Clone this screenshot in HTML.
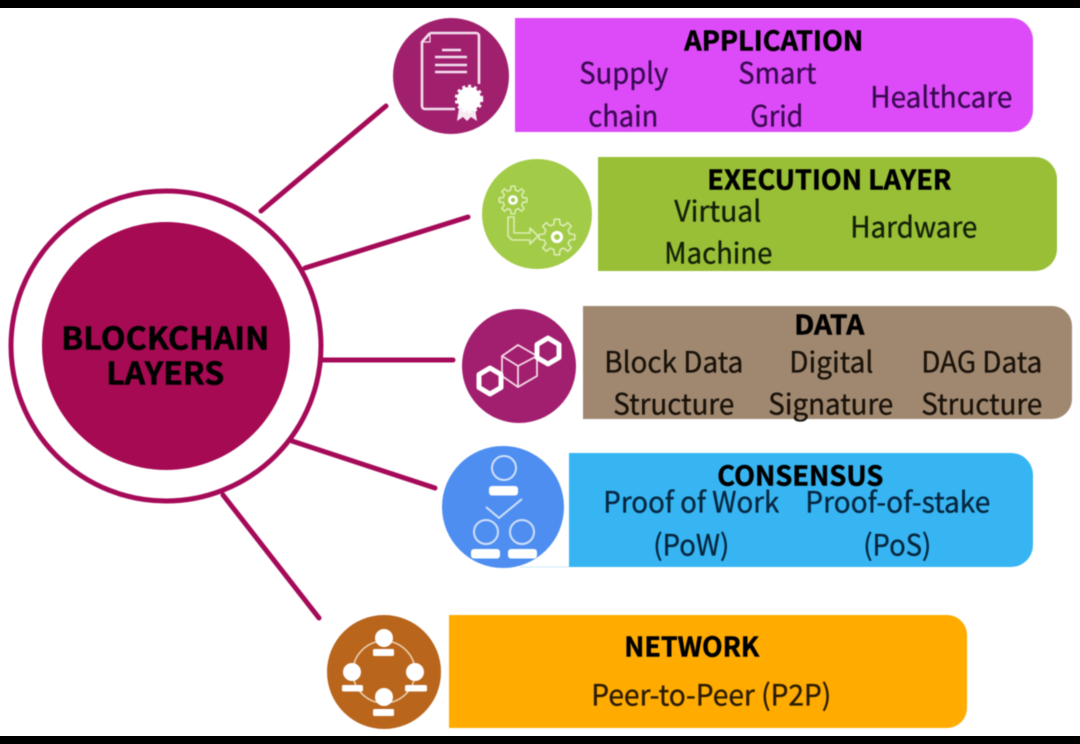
<!DOCTYPE html>
<html><head><meta charset="utf-8"><style>
html,body{margin:0;padding:0;background:#fff;width:1080px;height:744px;overflow:hidden}
svg{display:block;font-family:"Noto Sans CJK SC","Liberation Sans",sans-serif}
.art{filter:blur(.6px)}
.reg text{stroke:currentColor;stroke-width:.35px}
.bold text{stroke:#000;stroke-width:.5px}
</style></head><body>
<svg width="1080" height="744" viewBox="0 0 1080 744" xmlns="http://www.w3.org/2000/svg">
<rect width="1080" height="744" fill="#fff"/>
<g class="art">
<g stroke="#a50a58" stroke-width="5" fill="none" stroke-linecap="round">
<line x1="261" y1="211" x2="386" y2="106"/>
<line x1="305" y1="268" x2="468" y2="217"/>
<line x1="322" y1="360" x2="453" y2="360"/>
<line x1="292" y1="441" x2="435" y2="488"/>
<line x1="223" y1="495" x2="319" y2="618"/>
<circle cx="166" cy="346" r="155"/>
</g>
<circle cx="166" cy="346" r="124" fill="#a50a52"/>

<path d="M515 18H1011a22 22 0 0 1 22 22V110a22 22 0 0 1-22 22H515Z" fill="#dd4bf9"/>
<path d="M598 157H1035a22 22 0 0 1 22 22V249a22 22 0 0 1-22 22H598Z" fill="#98bf36"/>
<path d="M583 306H1052a20 20 0 0 1 20 20V399a20 20 0 0 1-20 20H583Z" fill="#a08870"/>
<path d="M569 453H1011a22 22 0 0 1 22 22V545a22 22 0 0 1-22 22H569Z" fill="#36b5f2"/>
<path d="M449 615H947a20 20 0 0 1 20 20V708a20 20 0 0 1-20 20H449Z" fill="#ffab00"/>

<!-- application icon -->
<circle cx="451" cy="76" r="58" fill="#a0206e"/>
<g fill="none" stroke="#f5dfee" stroke-width="2.6" stroke-linejoin="round">
<path d="M430 33H476a3 3 0 0 1 3 3V84M455 109H425a3 3 0 0 1-3-3V42L430 33"/>
<path d="M430 33V42H422" stroke-width="1.2"/>
</g>
<g stroke="#f5dfee" stroke-width="2.6">
<line x1="442" y1="50" x2="461" y2="50"/>
<line x1="435" y1="57" x2="467" y2="57"/>
<line x1="435" y1="65" x2="467" y2="65"/>
<line x1="435" y1="72" x2="467" y2="72"/>
</g>
<path d="M459 108L457 121L463 117L467 121L471 117L477 121L475 108Z" fill="#f8e8f2"/>
<circle cx="469" cy="99" r="12" fill="#fff"/>
<circle cx="469" cy="99" r="13" fill="none" stroke="#fff" stroke-width="2.5" stroke-dasharray="3 3"/>

<!-- execution icon -->
<circle cx="537" cy="214" r="55" fill="#a2cb47"/>
<g fill="none" stroke="#dcedb6" stroke-linejoin="round">
<polygon transform="translate(513 200) scale(14)" stroke-width=".11" points=".699,.174 .617,.371 .798,.602 .602,.798 .371,.617 .174,.699 .139,.99 -.139,.99 -.174,.699 -.371,.617 -.602,.798 -.798,.602 -.617,.371 -.699,.174 -.99,.139 -.99,-.139 -.699,-.174 -.617,-.371 -.798,-.602 -.602,-.798 -.371,-.617 -.174,-.699 -.139,-.99 .139,-.99 .174,-.699 .371,-.617 .602,-.798 .798,-.602 .617,-.371 .699,-.174 .99,-.139 .99,.139"/>
<polygon transform="translate(557 237) scale(18)" stroke-width=".09" points=".699,.174 .617,.371 .798,.602 .602,.798 .371,.617 .174,.699 .139,.99 -.139,.99 -.174,.699 -.371,.617 -.602,.798 -.798,.602 -.617,.371 -.699,.174 -.99,.139 -.99,-.139 -.699,-.174 -.617,-.371 -.798,-.602 -.602,-.798 -.371,-.617 -.174,-.699 -.139,-.99 .139,-.99 .174,-.699 .371,-.617 .602,-.798 .798,-.602 .617,-.371 .699,-.174 .99,-.139 .99,.139"/>
<path d="M508 217H514V233H530V228L538 236L530 244V240H512L508 236Z" stroke-width="1.6"/>
</g>
<circle cx="513" cy="200" r="3.5" fill="#a2cb47" stroke="#fff" stroke-width="2.8"/>
<circle cx="557" cy="237" r="4.5" fill="#a2cb47" stroke="#fff" stroke-width="3.2"/>

<!-- data icon -->
<circle cx="519" cy="366" r="57" fill="#a21e6e"/>
<g fill="none" stroke="#f3d9e8" stroke-width="1.8">
<path d="M518 345L537 356V376L518 387L502 376V356Z"/>
<path d="M502 356L518 366L537 356M518 366V387"/>
</g>
<g fill="none" stroke="#fff" stroke-width="5" stroke-linejoin="round">
<path d="M548 338L559 344.5V357.5L548 364L537 357.5V344.5Z"/>
<path d="M490 368L501 374.5V387.5L490 394L479 387.5V374.5Z"/>
</g>

<!-- consensus icon -->
<circle cx="503" cy="507" r="61" fill="#4e8ef0"/>
<g fill="none" stroke="#cfe0fb" stroke-width="2">
<circle cx="504" cy="468" r="12"/>
<circle cx="486" cy="532" r="12"/>
<circle cx="522" cy="532" r="12"/>
<path d="M486 507L499 518L522 499"/>
</g>
<g fill="#fff">
<rect x="489" y="486" width="29" height="9.5" rx="3"/>
<rect x="471" y="549" width="29" height="9.5" rx="3"/>
<rect x="508" y="549" width="29" height="9.5" rx="3"/>
</g>
<line x1="520" y1="567" x2="569" y2="567" stroke="#cfe9f9" stroke-width="1"/>

<!-- network icon -->
<circle cx="384" cy="672" r="57" fill="#b9651c"/>
<circle cx="384" cy="672" r="31" fill="none" stroke="#eccfae" stroke-width="1.6"/>
<g fill="#fff">
<circle cx="384" cy="638" r="9"/>
<rect x="373" y="649" width="21" height="7" rx="1.5"/>
<circle cx="352" cy="672" r="9"/>
<rect x="342" y="685" width="21" height="6.5" rx="1.5"/>
<circle cx="415" cy="672" r="9"/>
<rect x="405" y="685" width="22" height="6.5" rx="1.5"/>
<circle cx="384" cy="697" r="9"/>
<rect x="373" y="709" width="21" height="7" rx="1.5"/>
</g>

<!-- text -->
<g transform="translate(-.7 .6)">
<g fill="#000" class="bold">
<text x="62" y="349" textLength="208" lengthAdjust="spacingAndGlyphs" font-size="31" font-weight="700">BLOCKCHAIN</text>
<text x="107" y="384" textLength="118" lengthAdjust="spacingAndGlyphs" font-size="31" font-weight="700">LAYERS</text>
<text x="685" y="50" textLength="179" lengthAdjust="spacingAndGlyphs" font-size="27" font-weight="700">APPLICATION</text>
<text x="708" y="189" textLength="244" lengthAdjust="spacingAndGlyphs" font-size="27" font-weight="700">EXECUTION LAYER</text>
<text x="795" y="334" textLength="70" lengthAdjust="spacingAndGlyphs" font-size="27" font-weight="700">DATA</text>
<text x="718" y="485" textLength="166" lengthAdjust="spacingAndGlyphs" font-size="27" font-weight="700">CONSENSUS</text>
<text x="625" y="656" textLength="135" lengthAdjust="spacingAndGlyphs" font-size="27" font-weight="700">NETWORK</text>
</g>
<g font-size="29" font-weight="400" class="reg">
<g fill="#3a0a52" color="#3a0a52">
<text x="580" y="83" textLength="89" lengthAdjust="spacingAndGlyphs">Supply</text>
<text x="589" y="126" textLength="70" lengthAdjust="spacingAndGlyphs">chain</text>
<text x="739" y="83" textLength="78" lengthAdjust="spacingAndGlyphs">Smart</text>
<text x="751" y="126" textLength="53" lengthAdjust="spacingAndGlyphs">Grid</text>
<text x="871" y="107" textLength="142" lengthAdjust="spacingAndGlyphs">Healthcare</text>
</g>
<g fill="#142008" color="#142008">
<text x="675" y="221" textLength="87" lengthAdjust="spacingAndGlyphs">Virtual</text>
<text x="665" y="263" textLength="108" lengthAdjust="spacingAndGlyphs">Machine</text>
<text x="851" y="237" textLength="127" lengthAdjust="spacingAndGlyphs">Hardware</text>
</g>
<g fill="#1a120a" color="#1a120a">
<text x="605" y="372" textLength="139" lengthAdjust="spacingAndGlyphs">Block Data</text>
<text x="614" y="414" textLength="121" lengthAdjust="spacingAndGlyphs">Structure</text>
<text x="790" y="372" textLength="84" lengthAdjust="spacingAndGlyphs">Digital</text>
<text x="769" y="414" textLength="125" lengthAdjust="spacingAndGlyphs">Signature</text>
<text x="922" y="372" textLength="121" lengthAdjust="spacingAndGlyphs">DAG Data</text>
<text x="922" y="414" textLength="121" lengthAdjust="spacingAndGlyphs">Structure</text>
</g>
<g fill="#06263f" color="#06263f">
<text x="604" y="512" textLength="176" lengthAdjust="spacingAndGlyphs">Proof of Work</text>
<text x="654" y="555" textLength="76" lengthAdjust="spacingAndGlyphs">(PoW)</text>
<text x="806" y="512" textLength="185" lengthAdjust="spacingAndGlyphs">Proof-of-stake</text>
<text x="864" y="555" textLength="68" lengthAdjust="spacingAndGlyphs">(PoS)</text>
</g>
<text x="592" y="705" textLength="240" lengthAdjust="spacingAndGlyphs" fill="#2a1c00" color="#2a1c00">Peer-to-Peer (P2P)</text>
</g>
</g>
</g>
<rect width="1080" height="8" fill="#000"/>
<rect y="736" width="1080" height="8" fill="#000"/>
</svg>
</body></html>
